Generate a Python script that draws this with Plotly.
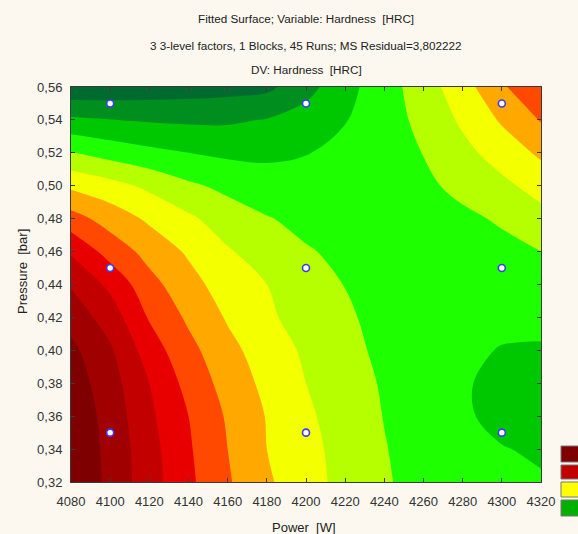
import plotly.graph_objects as go

# Fitted hardness surface sampled on a regular Power x Pressure grid
power = [4080, 4100, 4120, 4140, 4160, 4180, 4200, 4220, 4240, 4260, 4280, 4300, 4320]
pressure = [0.32, 0.34, 0.36, 0.38, 0.40, 0.42, 0.44, 0.46, 0.48, 0.50, 0.52, 0.54, 0.56]

# rows follow pressure (ascending), columns follow power
hardness = [
    [12.0, 10.73, 9.43, 8.21, 7.11, 6.15, 5.37, 4.70, 4.10, 3.65, 3.35, 3.20, 3.10],
    [11.9, 10.69, 9.37, 8.12, 7.00, 6.00, 5.30, 4.65, 4.05, 3.55, 3.25, 3.05, 2.85],
    [11.75, 10.62, 9.19, 8.00, 6.88, 5.95, 5.17, 4.55, 3.97, 3.50, 3.15, 2.70, 2.50],
    [11.55, 10.43, 9.00, 7.67, 6.61, 5.74, 5.00, 4.43, 3.90, 3.50, 3.15, 2.60, 2.55],
    [11.25, 10.14, 8.50, 7.30, 6.30, 5.50, 4.85, 4.26, 3.80, 3.45, 3.20, 2.95, 2.90],
    [10.62, 9.54, 7.91, 6.83, 5.90, 5.20, 4.54, 4.14, 3.70, 3.45, 3.35, 3.25, 3.26],
    [9.90, 8.77, 7.33, 6.37, 5.50, 5.00, 4.31, 3.98, 3.75, 3.62, 3.55, 3.50, 3.62],
    [8.87, 7.60, 6.66, 5.86, 5.10, 4.53, 4.08, 3.80, 3.60, 3.55, 3.60, 3.80, 4.00],
    [7.41, 6.58, 5.83, 5.18, 4.50, 4.06, 3.75, 3.55, 3.50, 3.60, 3.85, 4.09, 4.66],
    [5.80, 5.35, 4.79, 4.17, 3.76, 3.45, 3.36, 3.33, 3.60, 3.85, 4.20, 4.77, 5.38],
    [4.06, 3.60, 3.25, 3.00, 2.82, 2.80, 2.96, 3.29, 3.65, 4.02, 4.72, 5.43, 6.18],
    [2.18, 2.02, 1.91, 1.84, 1.85, 2.05, 2.45, 2.95, 3.56, 4.27, 5.17, 6.12, 7.08],
    [0.24, 0.32, 0.41, 0.52, 0.63, 0.76, 1.64, 2.67, 3.57, 4.51, 5.60, 6.84, 8.00],
]

# experimental design points
design_power = [4100, 4100, 4100, 4200, 4200, 4200, 4300, 4300, 4300]
design_pressure = [0.35, 0.45, 0.55, 0.35, 0.45, 0.55, 0.35, 0.45, 0.55]

# band colours, lowest to highest level
band_colors = ["#006b2f", "#008f1f", "#00c800", "#1eff00", "#b6ff00", "#f4ff00",
               "#ffa800", "#ff4800", "#e80000", "#c20000", "#a00000", "#7e0000"]
legend_colors = ["#7e0000", "#c20000", "#ffff00", "#00b000"]

n = len(band_colors)
colorscale = [[i / (n - 1), c] for i, c in enumerate(band_colors)]

BG = "#fcf8ef"
W, H = 578, 534
ML, MR, MT, MB = 71, 37, 87, 52
PW, PH = W - ML - MR, H - MT - MB


def px_x(px):
    return (px - ML) / PW


def px_y(py):
    return (H - MB - py) / PH


fig = go.Figure()
fig.add_trace(go.Contour(
    x=power, y=pressure, z=hardness,
    autocontour=False,
    contours=dict(start=1, end=11, size=1, coloring="fill", showlines=False),
    colorscale=colorscale,
    showscale=False,
    line_smoothing=1.0,
    line_width=0,
    hoverinfo="skip",
))
fig.add_trace(go.Scatter(
    x=design_power, y=design_pressure, mode="markers",
    marker=dict(size=7, color="white", line=dict(color="#3b3bf0", width=1.6)),
    showlegend=False, hoverinfo="skip",
))

font_main = dict(family="Arial, Liberation Sans", color="#222222")

title_lines = [
    ("Fitted Surface; Variable: Hardness\u00a0\u00a0[HRC]", 19),
    ("3 3-level factors, 1 Blocks, 45 Runs; MS Residual=3,802222", 45),
    ("DV: Hardness\u00a0\u00a0[HRC]", 69),
]
annotations = []
for text, py in title_lines:
    annotations.append(dict(text=text, x=px_x(306), y=px_y(py), xref="paper", yref="paper",
                            showarrow=False, xanchor="center", yanchor="middle",
                            font=dict(size=11.7, **font_main)))
annotations.append(dict(text="Pressure\u00a0\u00a0[bar]", x=px_x(22), y=px_y(272),
                        xref="paper", yref="paper", showarrow=False, textangle=-90,
                        xanchor="center", yanchor="middle", font=dict(size=13, **font_main)))
annotations.append(dict(text="Power\u00a0\u00a0[W]", x=px_x(304), y=px_y(527),
                        xref="paper", yref="paper", showarrow=False,
                        xanchor="center", yanchor="middle", font=dict(size=13, **font_main)))

shapes = []
for (top, bot), col in zip([(446, 462), (465, 479), (482, 497), (500, 516)], legend_colors):
    shapes.append(dict(type="rect", xref="paper", yref="paper",
                       x0=px_x(561), x1=px_x(590), y0=px_y(bot), y1=px_y(top),
                       fillcolor=col, line=dict(color="#777777", width=1)))

axis_common = dict(
    showgrid=False, zeroline=False, showline=True, linecolor="#3a3a3a", linewidth=1,
    mirror="ticks", ticks="inside", ticklen=4, tickcolor="#3a3a3a",
    tickfont=dict(size=13, family="Arial, Liberation Sans", color="#333333"),
)

fig.update_layout(
    width=W, height=H,
    margin=dict(l=ML, r=MR, t=MT, b=MB, pad=0),
    paper_bgcolor=BG, plot_bgcolor=BG,
    separators=",.",
    showlegend=False,
    annotations=annotations,
    shapes=shapes,
    xaxis=dict(range=[4080, 4320], tick0=4080, dtick=20, tickformat="d",
               ticklabelstandoff=7, **axis_common),
    yaxis=dict(range=[0.32, 0.56], tick0=0.32, dtick=0.02, tickformat=".2f",
               ticklabelstandoff=5, **axis_common),
)

fig.write_html("out.html")
